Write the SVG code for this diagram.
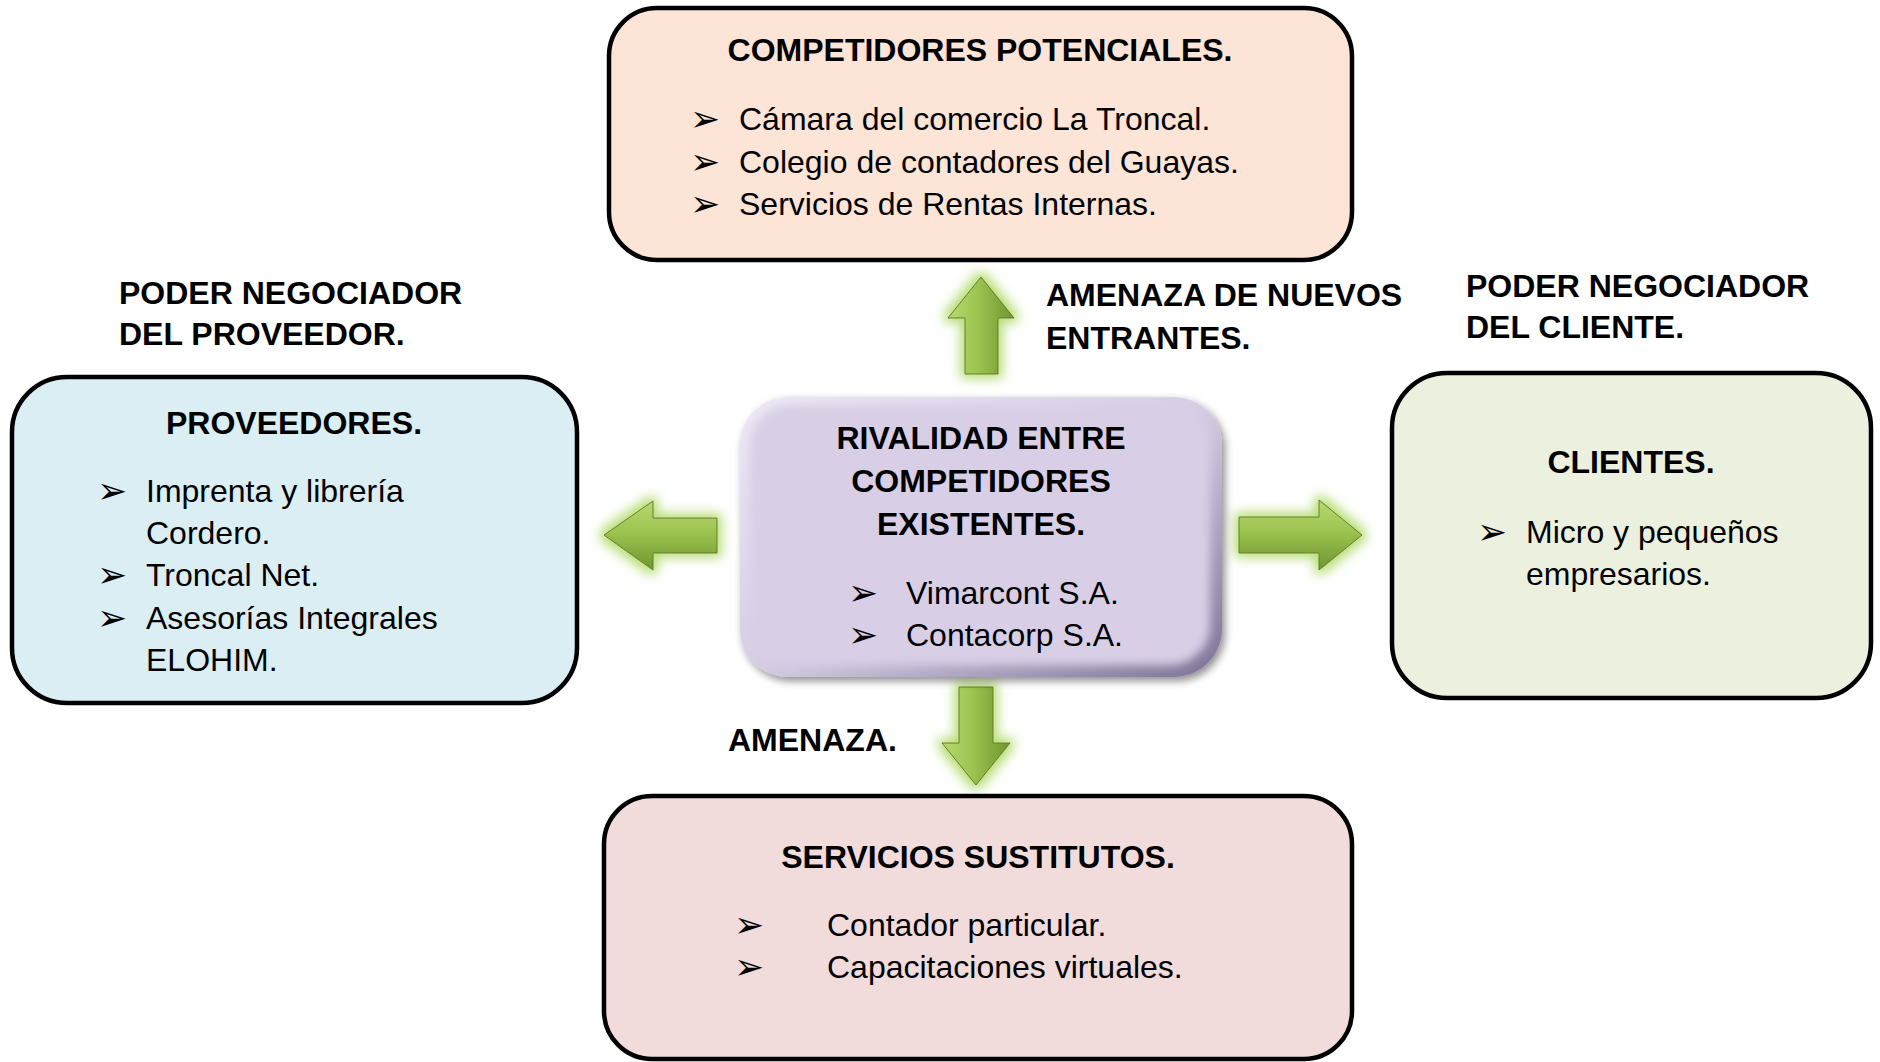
<svg xmlns="http://www.w3.org/2000/svg" width="1880" height="1062" viewBox="0 0 1880 1062">
<defs>
<style>
.box{stroke:#000;stroke-width:4.5}
.t{font-family:"Liberation Sans",Arial,sans-serif;font-size:32px;fill:#000}
.b{font-family:"Liberation Sans",Arial,sans-serif;font-size:32px;font-weight:bold;fill:#000}
.bul{font-family:"DejaVu Sans",sans-serif;font-size:36px;fill:#000}
.arr{stroke:#5e7d25;stroke-width:1;filter:url(#glow)}
</style>
<linearGradient id="gh" x1="0" y1="0" x2="1" y2="0">
<stop offset="0" stop-color="#b9d872"/><stop offset="0.45" stop-color="#9cc34f"/><stop offset="1" stop-color="#6f9530"/>
</linearGradient>
<linearGradient id="gv" x1="0" y1="0" x2="0" y2="1">
<stop offset="0" stop-color="#b9d872"/><stop offset="0.45" stop-color="#9cc34f"/><stop offset="1" stop-color="#6f9530"/>
</linearGradient>
<linearGradient id="cb" x1="0" y1="0" x2="1" y2="1">
<stop offset="0" stop-color="#efe9f6"/><stop offset="0.5" stop-color="#d6cde5"/><stop offset="1" stop-color="#7f7296"/>
</linearGradient>
<filter id="glow" x="-60%" y="-60%" width="220%" height="220%">
<feMorphology in="SourceAlpha" operator="dilate" radius="4" result="d"/>
<feGaussianBlur in="d" stdDeviation="6" result="bl"/>
<feFlood flood-color="#a9d65a" flood-opacity="0.85"/>
<feComposite in2="bl" operator="in" result="g"/>
<feMerge><feMergeNode in="g"/><feMergeNode in="SourceGraphic"/></feMerge>
</filter>
<filter id="shadow" x="-10%" y="-10%" width="125%" height="125%">
<feGaussianBlur in="SourceAlpha" stdDeviation="4" result="b"/>
<feOffset in="b" dx="3" dy="4" result="o"/>
<feComponentTransfer in="o" result="s"><feFuncA type="linear" slope="0.45"/></feComponentTransfer>
<feMerge><feMergeNode in="s"/><feMergeNode in="SourceGraphic"/></feMerge>
</filter>
<filter id="soft" x="-5%" y="-5%" width="110%" height="110%">
<feGaussianBlur stdDeviation="5"/>
</filter>
</defs>
<rect width="1880" height="1062" fill="#fff"/>

<g id="connectors">
<polygon class="arr" fill="url(#gh)" points="981,277 1014,318 998,318 998,374 965,374 965,318 948,318"/>
<polygon class="arr" fill="url(#gh)" points="959,687 993,687 993,743 1010,743 976,785 942,743 959,743"/>
<polygon class="arr" fill="url(#gv)" points="604,535 653,501 653,518 717,518 717,553 653,553 653,570"/>
<polygon class="arr" fill="url(#gv)" points="1239,517 1319,517 1319,500 1362,535 1319,570 1319,553 1239,553"/>
</g>

<g id="label-nuevos">
<text class="b" x="1046" y="306">AMENAZA DE NUEVOS</text>
<text class="b" x="1046" y="349">ENTRANTES.</text>
</g>
<g id="label-proveedor">
<text class="b" x="119" y="304">PODER NEGOCIADOR</text>
<text class="b" x="119" y="345">DEL PROVEEDOR.</text>
</g>
<g id="label-cliente">
<text class="b" x="1466" y="297">PODER NEGOCIADOR</text>
<text class="b" x="1466" y="338">DEL CLIENTE.</text>
</g>
<g id="label-amenaza">
<text class="b" x="728" y="751">AMENAZA.</text>
</g>

<g id="competidores">
<rect class="box" x="609" y="8" width="743" height="252" rx="48" fill="#fce4d6"/>
<text class="b" x="980" y="61" text-anchor="middle">COMPETIDORES POTENCIALES.</text>
<text class="bul" x="690" y="131">➢</text>
<text class="t" x="739" y="130">Cámara del comercio La Troncal.</text>
<text class="bul" x="690" y="174">➢</text>
<text class="t" x="739" y="173">Colegio de contadores del Guayas.</text>
<text class="bul" x="690" y="216">➢</text>
<text class="t" x="739" y="215">Servicios de Rentas Internas.</text>
</g>

<g id="proveedores">
<rect class="box" x="12" y="377" width="565" height="326" rx="55" fill="#daeef3"/>
<text class="b" x="294" y="434" text-anchor="middle">PROVEEDORES.</text>
<text class="bul" x="97" y="503">➢</text>
<text class="t" x="146" y="502">Imprenta y librería</text>
<text class="t" x="146" y="544">Cordero.</text>
<text class="bul" x="97" y="587">➢</text>
<text class="t" x="146" y="586">Troncal Net.</text>
<text class="bul" x="97" y="630">➢</text>
<text class="t" x="146" y="629">Asesorías Integrales</text>
<text class="t" x="146" y="671">ELOHIM.</text>
</g>

<g id="rivalidad">
<rect x="740" y="397" width="482" height="280" rx="48" fill="url(#cb)" filter="url(#shadow)"/>
<rect x="750" y="405" width="460" height="260" rx="40" fill="#d8cfe6" filter="url(#soft)"/>
<text class="b" x="981" y="449" text-anchor="middle">RIVALIDAD ENTRE</text>
<text class="b" x="981" y="492" text-anchor="middle">COMPETIDORES</text>
<text class="b" x="981" y="535" text-anchor="middle">EXISTENTES.</text>
<text class="bul" x="848" y="605">➢</text>
<text class="t" x="906" y="604">Vimarcont S.A.</text>
<text class="bul" x="848" y="647">➢</text>
<text class="t" x="906" y="646">Contacorp S.A.</text>
</g>

<g id="clientes">
<rect class="box" x="1392" y="373" width="479" height="325" rx="55" fill="#ebf1de"/>
<text class="b" x="1631" y="473" text-anchor="middle">CLIENTES.</text>
<text class="bul" x="1477" y="544">➢</text>
<text class="t" x="1526" y="543">Micro y pequeños</text>
<text class="t" x="1526" y="585">empresarios.</text>
</g>

<g id="sustitutos">
<rect class="box" x="604" y="796" width="748" height="263" rx="48" fill="#f2dcdb"/>
<text class="b" x="978" y="868" text-anchor="middle">SERVICIOS SUSTITUTOS.</text>
<text class="bul" x="734" y="937">➢</text>
<text class="t" x="827" y="936">Contador particular.</text>
<text class="bul" x="734" y="979">➢</text>
<text class="t" x="827" y="978">Capacitaciones virtuales.</text>
</g>
</svg>
